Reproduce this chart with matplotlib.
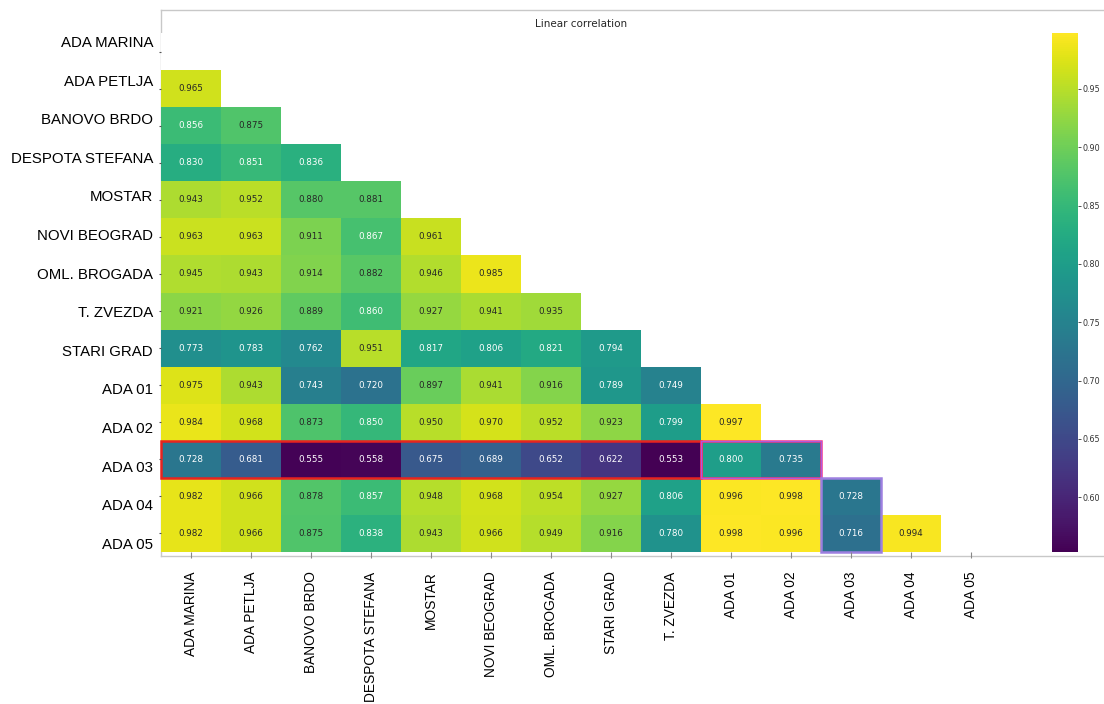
import numpy as np
import matplotlib
matplotlib.use("Agg")
import matplotlib.pyplot as plt
from matplotlib.patches import Rectangle
import seaborn as sns

# station names (rows and columns are not in the same order in the source)
row_labels = ["ADA MARINA", "ADA PETLJA", "BANOVO BRDO", "DESPOTA STEFANA", "MOSTAR",
              "NOVI BEOGRAD", "OML. BROGADA", "T. ZVEZDA", "STARI GRAD",
              "ADA 01", "ADA 02", "ADA 03", "ADA 04", "ADA 05"]
col_labels = ["ADA MARINA", "ADA PETLJA", "BANOVO BRDO", "DESPOTA STEFANA", "MOSTAR",
              "NOVI BEOGRAD", "OML. BROGADA", "STARI GRAD", "T. ZVEZDA",
              "ADA 01", "ADA 02", "ADA 03", "ADA 04", "ADA 05"]

# lower triangle of the correlation matrix, one list per row
r_ada_petlja = [0.965]
r_banovo = [0.856, 0.875]
r_despota = [0.830, 0.851, 0.836]
r_mostar = [0.943, 0.952, 0.880, 0.881]
r_novi = [0.963, 0.963, 0.911, 0.867, 0.961]
r_oml = [0.945, 0.943, 0.914, 0.882, 0.946, 0.985]
r_zvezda = [0.921, 0.926, 0.889, 0.860, 0.927, 0.941, 0.935]
r_stari = [0.773, 0.783, 0.762, 0.951, 0.817, 0.806, 0.821, 0.794]
r_ada01 = [0.975, 0.943, 0.743, 0.720, 0.897, 0.941, 0.916, 0.789, 0.749]
r_ada02 = [0.984, 0.968, 0.873, 0.850, 0.950, 0.970, 0.952, 0.923, 0.799, 0.997]
r_ada03 = [0.728, 0.681, 0.555, 0.558, 0.675, 0.689, 0.652, 0.622, 0.553, 0.800, 0.735]
r_ada04 = [0.982, 0.966, 0.878, 0.857, 0.948, 0.968, 0.954, 0.927, 0.806, 0.996, 0.998, 0.728]
r_ada05 = [0.982, 0.966, 0.875, 0.838, 0.943, 0.966, 0.949, 0.916, 0.780, 0.998, 0.996, 0.716, 0.994]

rows = [[], r_ada_petlja, r_banovo, r_despota, r_mostar, r_novi, r_oml, r_zvezda,
        r_stari, r_ada01, r_ada02, r_ada03, r_ada04, r_ada05]

n = len(row_labels)
corr = np.full((n, n), np.nan)
for i, r in enumerate(rows):
    corr[i, :len(r)] = r
mask = np.isnan(corr)

W, H = 1104, 704
fig = plt.figure(figsize=(W / 100, H / 100), dpi=100)


def px_axes(x0, y0, x1, y1):
    # pixel box (top-left origin) -> figure axes
    return fig.add_axes([x0 / W, 1 - y1 / H, (x1 - x0) / W, (y1 - y0) / H])


# light frame behind everything
bg = px_axes(161, 9.5, 1112, 556)
bg.set_xticks([]); bg.set_yticks([])
bg.patch.set_alpha(0)
for sp in bg.spines.values():
    sp.set_color("#c8c8c8")
    sp.set_linewidth(1.0)

ax = px_axes(161, 33, 1001, 552)
cax = px_axes(1052, 33, 1078, 552)

sns.heatmap(corr, mask=mask, cmap="viridis", annot=True, fmt=".3f",
            annot_kws={"size": 6.3}, ax=ax, cbar_ax=cax,
            xticklabels=col_labels, yticklabels=False)

ax.set_title("Linear correlation", fontsize=7.5, pad=4, color="#262626")
ax.set_xticks(np.arange(n) + 0.5)
ax.set_xticklabels(col_labels, rotation=90, fontsize=9.9,
                   family=["Liberation Sans", "DejaVu Sans"], va="top")
ax.tick_params(axis="x", length=4, width=0.8, color="#888888", pad=10)
ax.set_yticks(np.arange(n) + 0.5)
ax.tick_params(axis="y", length=1.5, width=0.8, color="#555555")

# row labels are spread slightly wider than the cells
lab_pos = 0.27 + np.arange(n) * 1.0415
ytrans = matplotlib.transforms.blended_transform_factory(ax.transAxes, ax.transData)
for lab, yp in zip(row_labels, lab_pos):
    ax.text(-0.0095, yp, lab, transform=ytrans, ha="right", va="center",
            fontsize=10.8, family=["Liberation Sans", "DejaVu Sans"], color="black")

# highlight ADA 03
r3 = row_labels.index("ADA 03")
ax.add_patch(Rectangle((0, r3), 9, 1, fill=False, edgecolor="#e8231f", lw=1.8, clip_on=False))
ax.add_patch(Rectangle((9, r3), 2, 1, fill=False, edgecolor="#f0388e", lw=1.8, clip_on=False))
ax.add_patch(Rectangle((9, r3), 2, 1, fill=False, edgecolor="#b05ae0", lw=0.7, clip_on=False))
ax.add_patch(Rectangle((11, r3 + 1), 1, 2, fill=False, edgecolor="#9d7fe0", lw=1.8, clip_on=False))

cax.tick_params(labelsize=5.8, length=2, width=0.6, pad=1.5,
                color="#333333", labelcolor="#333333")

plt.savefig("out.png", dpi=100)
plt.close()
